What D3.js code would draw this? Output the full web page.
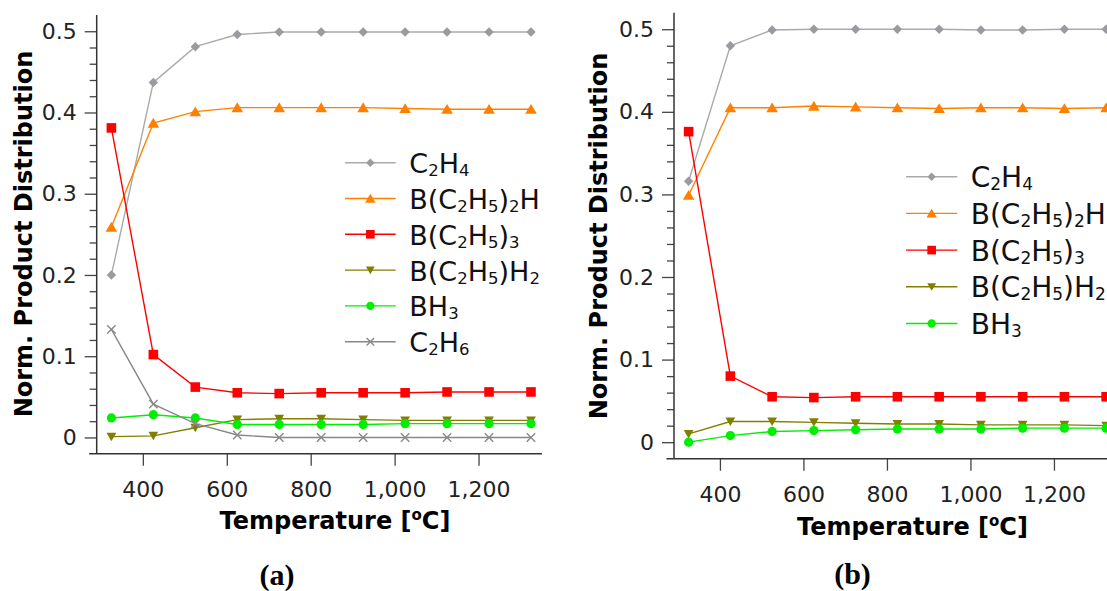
<!DOCTYPE html>
<html>
<head>
<meta charset="utf-8">
<script src="https://cdn.jsdelivr.net/npm/d3@7"></script>
<style>
  body { margin: 0; background: #fff; }
  svg { display: block; font-family: "DejaVu Sans", sans-serif; }
</style>
</head>
<body>
<svg id="chart" width="1107" height="591"></svg>
<script>
// temperatures [ºC]
const temps = [325, 425, 525, 625, 725, 825, 925, 1025, 1125, 1225, 1325];
const xTickValues = [400, 600, 800, 1000, 1200];
const yTickValues = [0, 0.1, 0.2, 0.3, 0.4, 0.5];
const seriesNames = ["C_2H_4", "B(C_2H_5)_2H", "B(C_2H_5)_3", "B(C_2H_5)H_2", "BH_3", "C_2H_6"];

// panel (a)
const c2h4A   = [0.200, 0.437, 0.481, 0.496, 0.499, 0.499, 0.499, 0.499, 0.499, 0.499, 0.499];
const bEt2hA  = [0.259, 0.387, 0.401, 0.406, 0.406, 0.406, 0.406, 0.405, 0.404, 0.404, 0.404];
const bEt3A   = [0.381, 0.102, 0.062, 0.055, 0.054, 0.055, 0.055, 0.055, 0.056, 0.056, 0.056];
const bEth2A  = [0.001, 0.002, 0.012, 0.022, 0.023, 0.023, 0.022, 0.021, 0.021, 0.021, 0.021];
const bh3A    = [0.024, 0.028, 0.024, 0.016, 0.016, 0.016, 0.016, 0.017, 0.017, 0.017, 0.017];
const c2h6A   = [0.133, 0.041, 0.017, 0.003, 0.000, 0.000, 0.000, 0.000, 0.000, 0.000, 0.000];

// panel (b)
const c2h4B   = [0.316, 0.480, 0.499, 0.500, 0.500, 0.500, 0.500, 0.499, 0.499, 0.500, 0.500];
const bEt2hB  = [0.299, 0.405, 0.405, 0.407, 0.406, 0.405, 0.404, 0.405, 0.405, 0.404, 0.405];
const bEt3B   = [0.376, 0.080, 0.055, 0.054, 0.055, 0.055, 0.055, 0.055, 0.055, 0.055, 0.055];
const bEth2B  = [0.010, 0.025, 0.025, 0.024, 0.023, 0.022, 0.022, 0.021, 0.021, 0.021, 0.020];
const bh3B    = [0.000, 0.008, 0.013, 0.014, 0.015, 0.016, 0.016, 0.016, 0.017, 0.017, 0.017];

// series styles, same order as seriesNames
const styles = [
  {line: "#aaaaaa", fill: "#9a9aa0", marker: "diamond"},
  {line: "#ff8000", fill: "#ff8000", marker: "triUp"},
  {line: "#ff0000", fill: "#ff0000", marker: "square"},
  {line: "#808000", fill: "#808000", marker: "triDown"},
  {line: "#00ee00", fill: "#00ee00", marker: "circle"},
  {line: "#888888", fill: "none",    marker: "cross"}
];

const svg = d3.select("#chart");
svg.append("rect").attr("width", 1107).attr("height", 591).attr("fill", "#fff");

function markerPath(type, k) {
  switch (type) {
    case "diamond": return `M0,${-4.7*k}L${4.7*k},0L0,${4.7*k}L${-4.7*k},0Z`;
    case "triUp":   return `M0,${-5.3*k}L${5.8*k},${4.6*k}L${-5.8*k},${4.6*k}Z`;
    case "square":  return `M${-4.8*k},${-4.8*k}h${9.6*k}v${9.6*k}h${-9.6*k}Z`;
    case "triDown": return `M${-4.9*k},${-4*k}L${4.9*k},${-4*k}L0,${4.5*k}Z`;
    case "circle":  return d3.symbol(d3.symbolCircle, Math.PI*4.6*4.6*k*k)();
    case "cross":   return `M${-4.2*k},${-4.2*k}L${4.2*k},${4.2*k}M${-4.2*k},${4.2*k}L${4.2*k},${-4.2*k}`;
  }
}

function drawMarker(g, type, st, k) {
  const p = g.append("path").attr("d", markerPath(type, k));
  if (type === "cross") p.attr("fill", "none").attr("stroke", st.line).attr("stroke-width", 1.4);
  else p.attr("fill", st.fill).attr("stroke", "none");
  return p;
}

// "C_2H_4" -> text with subscripts
function chemText(sel, label, fs, subFs, shift) {
  const parts = label.split(/(_\d)/).filter(s => s.length);
  let down = false;
  parts.forEach(s => {
    if (s[0] === "_") {
      sel.append("tspan").attr("font-size", subFs).attr("dy", down ? 0 : shift).text(s.slice(1));
      down = true;
    } else {
      sel.append("tspan").attr("font-size", fs).attr("dy", down ? -shift : 0).text(s);
      down = false;
    }
  });
}

function drawPanel(p, series) {
  const x = d3.scaleLinear().domain([290, 1351]).range([p.left, p.right]);
  const y = d3.scaleLinear().domain([-0.02, 0.52]).range([p.bottom, p.top]);
  const g = svg.append("g");

  // axes
  const minor = d3.range(1, 25).map(i => +(i * 0.02).toFixed(2)).filter(v => Math.abs(v * 10 - Math.round(v * 10)) > 1e-6);
  const yMinor = g.append("g").attr("transform", `translate(${p.left},0)`)
    .call(d3.axisLeft(y).tickValues(minor).tickSize(7).tickFormat(""));
  const yMajor = g.append("g").attr("transform", `translate(${p.left},0)`)
    .call(d3.axisLeft(y).tickValues(yTickValues).tickSize(12).tickPadding(8).tickFormat(d => String(d)));
  const xAx = g.append("g").attr("transform", `translate(0,${p.bottom})`)
    .call(d3.axisBottom(x).tickValues(xTickValues).tickSize(12).tickPadding(16).tickFormat(d3.format(",")));
  [yMinor, yMajor, xAx].forEach(a => {
    a.select(".domain").remove();
    a.attr("font-family", "DejaVu Sans").attr("font-size", 22).attr("color", "#222");
    a.selectAll(".tick line").attr("stroke", "#444").attr("stroke-width", 1.3);
  });
  g.append("line").attr("x1", p.left).attr("x2", p.left).attr("y1", p.top).attr("y2", p.bottom)
    .attr("stroke", "#333").attr("stroke-width", 1.5);
  g.append("line").attr("x1", p.left - 7.5).attr("x2", p.right).attr("y1", p.bottom).attr("y2", p.bottom)
    .attr("stroke", "#333").attr("stroke-width", 1.5);

  // series
  const line = d3.line().x((d, i) => x(temps[i])).y(d => y(d));
  series.forEach((vals, si) => {
    const st = styles[si];
    const sg = g.append("g");
    sg.append("path").attr("d", line(vals)).attr("fill", "none")
      .attr("stroke", st.line).attr("stroke-width", 1.4);
    vals.forEach((v, i) => {
      const m = sg.append("g").attr("transform", `translate(${x(temps[i])},${y(v)})`);
      drawMarker(m, st.marker, st, 1);
    });
  });

  // legend
  series.forEach((vals, si) => {
    const st = styles[si];
    const ly = p.legY + si * p.legDy;
    const lg = g.append("g");
    lg.append("line").attr("x1", p.legX1).attr("x2", p.legX2).attr("y1", ly).attr("y2", ly)
      .attr("stroke", st.line).attr("stroke-width", 1.4);
    const m = lg.append("g").attr("transform", `translate(${(p.legX1 + p.legX2) / 2},${ly})`);
    drawMarker(m, st.marker, st, 0.9);
    const t = lg.append("text").attr("x", p.legText).attr("y", ly + 10.5).attr("fill", "#111");
    chemText(t, seriesNames[si], p.legFs, p.legSub, 3);
  });

  // titles
  const xt = g.append("text").attr("x", p.xtX).attr("y", p.xtY).attr("text-anchor", "middle")
    .attr("font-weight", "bold").attr("font-size", 24).attr("fill", "#000");
  xt.append("tspan").text("Temperature [");
  xt.append("tspan").attr("font-size", 15).attr("dy", -9).text("o");
  xt.append("tspan").attr("dy", 9).text("C]");
  g.append("text").attr("transform", `translate(${p.ytX},${p.ytY}) rotate(-90)`)
    .attr("text-anchor", "middle").attr("font-weight", "bold").attr("font-size", 24).attr("fill", "#000")
    .text("Norm. Product Distribution");
  g.append("text").attr("x", p.capX).attr("y", p.capY).attr("text-anchor", "middle")
    .attr("font-family", "Liberation Serif").attr("font-weight", "bold").attr("font-size", 30)
    .attr("fill", "#000").text(p.caption);
}

drawPanel({left: 96.7, right: 541.9, top: 15, bottom: 453.7,
  legX1: 345, legX2: 395.7, legText: 409.3, legY: 162.7, legDy: 35.8, legFs: 27, legSub: 16.5,
  xtX: 335, xtY: 529.3, ytX: 31.7, ytY: 234, capX: 277, capY: 585, caption: "(a)"},
  [c2h4A, bEt2hA, bEt3A, bEth2A, bh3A, c2h6A]);

drawPanel({left: 674, right: 1117, top: 12.7, bottom: 458.7,
  legX1: 906, legX2: 957.3, legText: 970.7, legY: 176.7, legDy: 36.7, legFs: 28, legSub: 17,
  xtX: 912.5, xtY: 535, ytX: 607.3, ytY: 236, capX: 852.5, capY: 584, caption: "(b)"},
  [c2h4B, bEt2hB, bEt3B, bEth2B, bh3B]);
</script>
</body>
</html>
